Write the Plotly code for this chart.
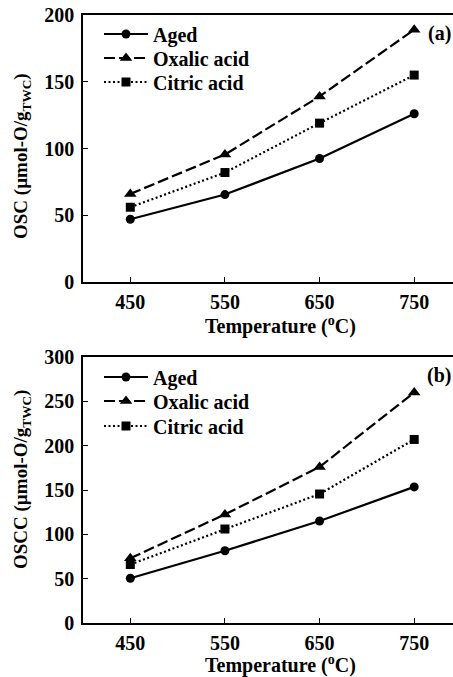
import plotly.graph_objects as go

temps = [450, 550, 650, 750]
series_names = ["Aged", "Oxalic acid", "Citric acid"]

osc_aged = [47, 65.5, 92.5, 126]
osc_oxalic = [66, 95.5, 139, 189]
osc_citric = [56, 82, 119, 155]

oscc_aged = [50.5, 81.5, 115, 153.5]
oscc_oxalic = [73, 122.5, 176, 260]
oscc_citric = [66, 106, 145.5, 207]

x_ticks = [450, 550, 650, 750]
osc_ticks = [0, 50, 100, 150, 200]
oscc_ticks = [0, 50, 100, 150, 200, 250, 300]

FONT = "Liberation Serif, Times New Roman, serif"
W, H = 453, 677

styles = [
    dict(dash="solid", symbol="circle", size=9),
    dict(dash="11px,4px", symbol="triangle-up", size=11),
    dict(dash="2px,2.5px", symbol="square", size=9),
]

def py(p):
    return 1 - p / H

# legend rows (pixel centers) for each panel
legend_rows = [[34, 58, 82], [377, 401, 426]]

fig = go.Figure()

panels = [
    (dict(xaxis="x", yaxis="y"), [osc_aged, osc_oxalic, osc_citric]),
    (dict(xaxis="x2", yaxis="y2"), [oscc_aged, oscc_oxalic, oscc_citric]),
]
leg_font = dict(family=FONT, size=20, color="black", weight="bold")
legend_layout = {}
k = 0
for p_i, (axes, data) in enumerate(panels):
    for s_i, (name, vals, st) in enumerate(zip(series_names, data, styles)):
        k += 1
        lname = "legend" if k == 1 else f"legend{k}"
        fig.add_trace(go.Scatter(
            x=temps, y=vals, name=name, mode="lines+markers",
            line=dict(color="black", width=2.2, dash=st["dash"]),
            marker=dict(symbol=st["symbol"], size=st["size"], color="black"),
            legend=lname, **axes,
        ))
        legend_layout[lname] = dict(
            x=99 / W, y=py(legend_rows[p_i][s_i]), xanchor="left", yanchor="middle",
            bgcolor="rgba(0,0,0,0)", font=leg_font, itemwidth=44,
        )

tick_font = dict(family=FONT, size=20, color="black", weight="bold")
xdom = [83 / W, 1.0]
common_x = dict(range=[400, 791], tickvals=x_ticks, showline=True, linecolor="black",
                linewidth=1.5, mirror=True, ticks="inside", ticklen=5, tickcolor="black",
                showgrid=False, zeroline=False, ticklabelstandoff=1, automargin=False,
                tickfont=tick_font)
common_y = dict(showline=True, linecolor="black", linewidth=1.5, mirror=False,
                ticks="inside", ticklen=5, tickcolor="black", showgrid=False,
                zeroline=False, ticklabelstandoff=3, automargin=False,
                tickfont=tick_font)

fig.update_layout(
    width=W, height=H, margin=dict(l=0, r=0, t=0, b=0, autoexpand=False),
    paper_bgcolor="white", plot_bgcolor="white",
    xaxis=dict(domain=xdom, anchor="y", **common_x),
    yaxis=dict(domain=[py(282), py(15)], anchor="x", range=[0, 200], tickvals=osc_ticks, **common_y),
    xaxis2=dict(domain=xdom, anchor="y2", **common_x),
    yaxis2=dict(domain=[py(623), py(357)], anchor="x2", range=[0, 300], tickvals=oscc_ticks, **common_y),
    showlegend=True,
    **legend_layout,
)

ann_font = dict(family=FONT, size=20, color="black", weight="bold")
ytitle_font = dict(family=FONT, size=19, color="black", weight="bold")
annotations = [
    dict(text="Temperature (<sup>o</sup>C)", x=280 / W, y=py(325), xref="paper", yref="paper",
         showarrow=False, font=ann_font, xanchor="center", yanchor="middle"),
    dict(text="Temperature (<sup>o</sup>C)", x=280 / W, y=py(664), xref="paper", yref="paper",
         showarrow=False, font=ann_font, xanchor="center", yanchor="middle"),
    dict(text="OSC (µmol-O/g<sub>TWC</sub>)", x=22 / W, y=py(156), xref="paper", yref="paper",
         showarrow=False, font=ytitle_font, textangle=-90, xanchor="center", yanchor="middle"),
    dict(text="OSCC (µmol-O/g<sub>TWC</sub>)", x=22 / W, y=py(480), xref="paper", yref="paper",
         showarrow=False, font=ytitle_font, textangle=-90, xanchor="center", yanchor="middle"),
    dict(text="(a)", x=1.0, y=py(34), xref="paper", yref="paper", showarrow=False,
         font=ann_font, xanchor="right", yanchor="middle"),
    dict(text="(b)", x=1.0, y=py(375), xref="paper", yref="paper", showarrow=False,
         font=ann_font, xanchor="right", yanchor="middle"),
]
fig.update_layout(annotations=annotations)

# the page's default body margin would shift the figure by 8px; remove it
fig.write_html("out.html", config={"displayModeBar": False},
               post_script="document.body.style.margin='0';")
